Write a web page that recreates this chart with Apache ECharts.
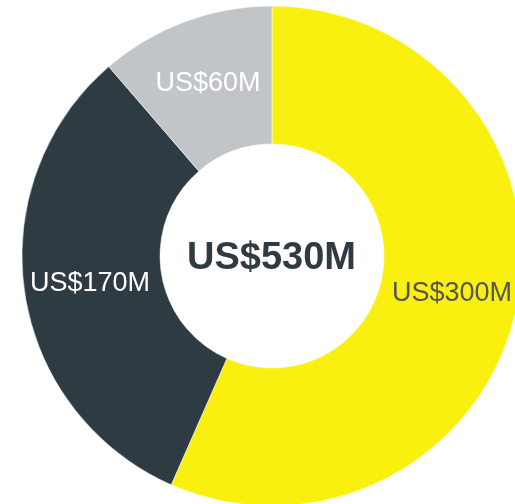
<!DOCTYPE html>
<html>
<head>
<meta charset="utf-8">
<script src="https://cdn.jsdelivr.net/npm/echarts@6/dist/echarts.min.js"></script>
<style>
  html, body { margin: 0; padding: 0; background: #fff; }
  #chart { width: 515px; height: 504px; }
</style>
</head>
<body>
<div id="chart"></div>
<script>
const names = ['US$300M', 'US$170M', 'US$60M']
const values = [300, 170, 60]
const colors = ['#FAF00F', '#2F3B43', '#C2C5C8']
const labelColors = ['#555555', '#ffffff', '#ffffff']
const totalLabel = 'US$530M'

const chart = echarts.init(document.getElementById('chart'))

chart.setOption({
  animation: false,
  graphic: [
    {
      type: 'text',
      left: 272 - 85,
      top: 256 - 16,
      style: {
        text: totalLabel,
        x: 0,
        y: 0,
        fill: '#2F3B43',
        font: 'bold 38px "Liberation Sans", Arial, sans-serif'
      }
    }
  ],
  series: [
    {
      type: 'pie',
      center: [272, 256],
      radius: [112, 250],
      startAngle: 90,
      clockwise: true,
      label: {
        show: true,
        position: 'inside',
        fontFamily: '"Liberation Sans", Arial, sans-serif',
        fontSize: 27
      },
      labelLine: { show: false },
      itemStyle: {
        borderColor: '#ffffff',
        borderWidth: 0.5
      },
      data: values.map((v, i) => ({
        value: v,
        name: names[i],
        itemStyle: { color: colors[i] },
        label: { color: labelColors[i] }
      }))
    }
  ]
})
</script>
</body>
</html>
